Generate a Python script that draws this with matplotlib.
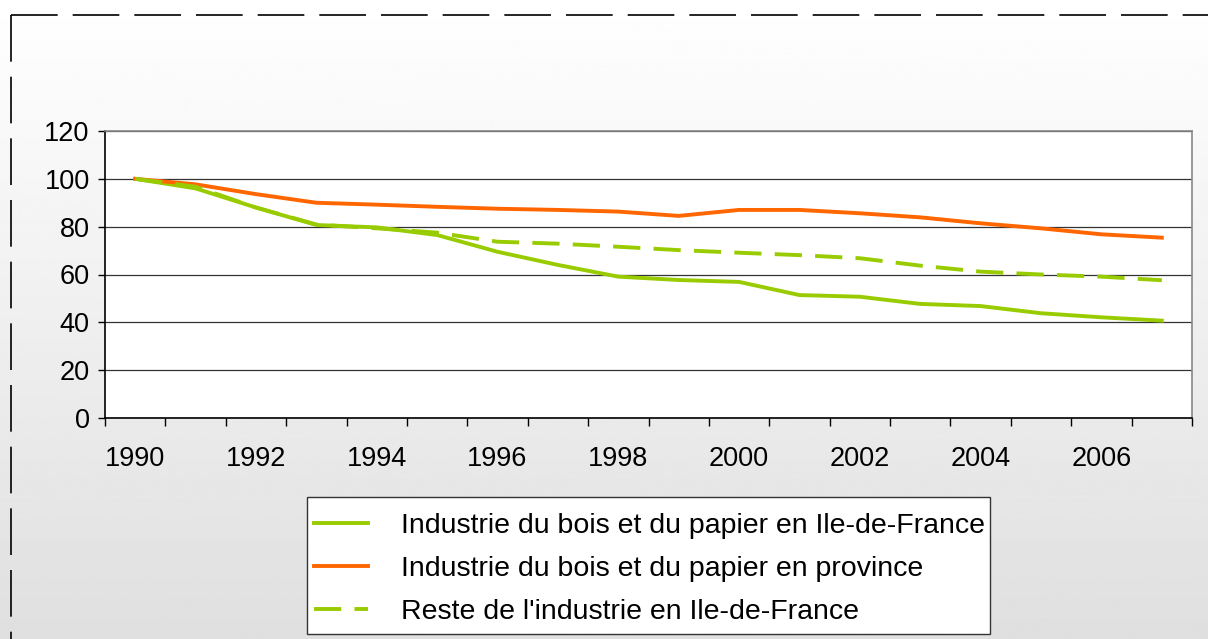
import numpy as np
import matplotlib.pyplot as plt
import matplotlib as mpl
from matplotlib.lines import Line2D
from matplotlib.patches import Rectangle

mpl.rcParams['font.family'] = ['Liberation Sans', 'DejaVu Sans']

years = list(range(1990, 2008))
bois_idf = [100, 96, 88, 80.7, 79.7, 76.5, 69.5, 64, 59.1, 57.7, 56.9, 51.4, 50.7, 47.7, 46.8, 43.8, 42.1, 40.7]
bois_province = [100, 97.7, 93.6, 90, 89.2, 88.3, 87.5, 87, 86.3, 84.5, 87, 87, 85.6, 83.9, 81.4, 79.3, 76.8, 75.4]
reste_idf = [100, 96.7, 88, 80.9, 79.3, 77.5, 73.7, 72.9, 71.6, 70.2, 69.1, 68.1, 66.8, 63.7, 61.2, 60, 59.1, 57.6]
labels = ["Industrie du bois et du papier en Ile-de-France",
          "Industrie du bois et du papier en province",
          "Reste de l'industrie en Ile-de-France"]
tick_years = [1990, 1992, 1994, 1996, 1998, 2000, 2002, 2004, 2006]

W, H = 1208, 639
fig = plt.figure(figsize=(W / 100, H / 100), dpi=100)

# gradient background of the chart area
bg = fig.add_axes([0, 0, 1, 1], zorder=-10)
grad = np.linspace(1.0, 0.875, 256).reshape(-1, 1)
bg.imshow(grad, aspect='auto', cmap='gray', vmin=0, vmax=1, extent=[0, 1, 0, 1])
bg.set_axis_off()

# dashed chart border (top and left)
x0, y0 = 11 / W, 1 - 15 / H
fig.add_artist(Line2D([x0, 1], [y0, y0], transform=fig.transFigure, color='black',
                      lw=1.2, linestyle=(0, (28, 9))))
fig.add_artist(Line2D([x0, x0], [y0, 0], transform=fig.transFigure, color='black',
                      lw=1.2, linestyle=(0, (28, 9))))

ax = fig.add_axes([105 / W, 1 - 418 / H, (1192 - 105) / W, (418 - 131) / H])
ax.set_facecolor('white')
x = np.arange(len(years))
lw = 2.8
l1, = ax.plot(x, bois_idf, color='#99CC00', lw=lw, zorder=3)
l2, = ax.plot(x, bois_province, color='#FF6600', lw=lw, zorder=3)
l3, = ax.plot(x, reste_idf, color='#99CC00', lw=lw, linestyle=(0, (7, 3.4)), zorder=3)

ax.set_xlim(-0.5, len(years) - 0.5)
ax.set_ylim(0, 120)
ax.set_yticks(range(0, 121, 20))
ax.yaxis.grid(True, color='#333333', lw=0.9)
ax.set_axisbelow(True)

ax.set_xticks(np.arange(-0.5, len(years), 1))
ax.set_xticklabels([])
ax.set_xticks([years.index(y) for y in tick_years], minor=True)
ax.set_xticklabels([str(y) for y in tick_years], minor=True)
ax.tick_params(axis='x', which='minor', length=0, pad=20.5, labelsize=19.5)
ax.tick_params(axis='x', which='major', length=6, width=1, color='black')
ax.tick_params(axis='y', length=5, width=1, labelsize=19.5, pad=6)

for s in ['left', 'bottom']:
    ax.spines[s].set_color('black')
    ax.spines[s].set_linewidth(1.2)
for s in ['top', 'right']:
    ax.spines[s].set_color('#888888')
    ax.spines[s].set_linewidth(1.2)

# legend box drawn separately so its size matches the original
fig.add_artist(Rectangle((307 / W, 1 - 634 / H), (990 - 307) / W, (634 - 497) / H,
                         transform=fig.transFigure, facecolor='white',
                         edgecolor='#333333', lw=1.0, zorder=5))
leg = fig.legend([l1, l2, l3], labels, loc='upper left',
                 bbox_to_anchor=(307 / W, 1 - 505.5 / H), fontsize=20.5, frameon=False,
                 handlelength=1.9, handletextpad=1.15, labelspacing=0.6,
                 borderpad=0.25, borderaxespad=0)
leg.set_zorder(6)

fig.savefig('out.png', dpi=100)
